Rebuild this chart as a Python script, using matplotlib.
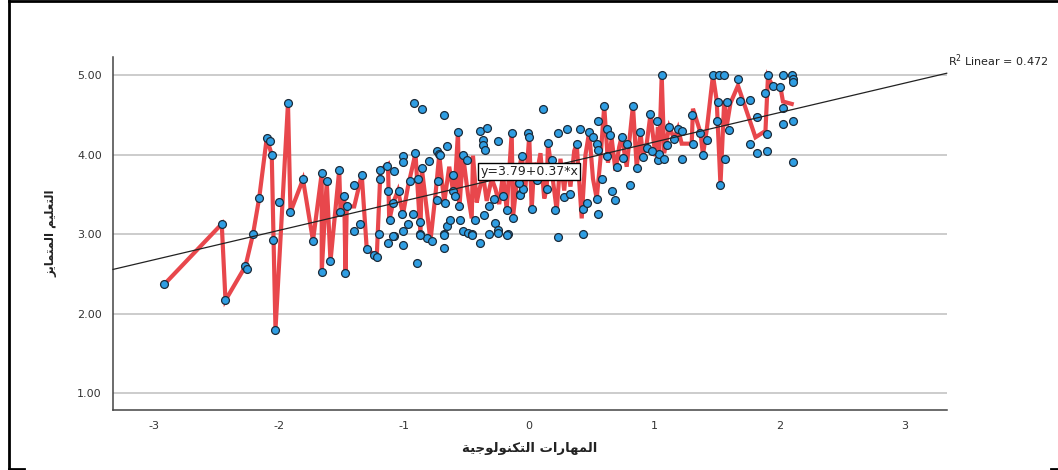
import numpy as np
import matplotlib
matplotlib.use("Agg")
import matplotlib.pyplot as plt
from matplotlib.lines import Line2D

plt.rcParams['font.family'] = ['DejaVu Sans']

# scatter points
pt_x = [-2.92, -2.46, -2.43, -2.27, -2.26, -2.21, -2.16, -2.10, -2.07, -2.06, -2.05, -2.03, -2.00, -1.93, -1.91, -1.81,
        -1.73, -1.66, -1.66, -1.62, -1.59, -1.52, -1.51, -1.48, -1.47, -1.46, -1.40, -1.40, -1.35, -1.34, -1.30, -1.24,
        -1.22, -1.20, -1.19, -1.19, -1.14, -1.13, -1.13, -1.11, -1.09, -1.08, -1.08, -1.04, -1.02, -1.01, -1.01, -1.01,
        -1.01, -0.97, -0.95, -0.93, -0.92, -0.91, -0.90, -0.89, -0.87, -0.86, -0.87, -0.86, -0.82, -0.80, -0.78, -0.74,
        -0.72, -0.71, -0.68, -0.68, -0.68, -0.66, -0.66, -0.63, -0.61, -0.57, -0.56, -0.55, -0.53, -0.53, -0.50, -0.49,
        -0.67, -0.61, -0.59, -0.74, -0.73,
        -0.46, -0.39, -0.39, -0.34, -0.37, -0.37, -0.35, -0.36, -0.43, -0.32, -0.32, -0.27, -0.28, -0.25, -0.25, -0.21,
        -0.17, -0.18, -0.14, -0.13, -0.07, -0.07, -0.06, -0.05, -0.08, -0.01, 0.00, 0.02, 0.06, 0.11, 0.14, 0.15,
        0.18, 0.21, 0.23, 0.23, 0.28, 0.30, 0.33, 0.38, 0.41, 0.43, 0.43, 0.46, 0.48, 0.51, 0.54, 0.55,
        0.55, 0.54, 0.55, 0.58, 0.60, 0.62, 0.65, 0.66, 0.69, 0.74, 0.70, 0.78, 0.81, 0.83, 0.86, 0.89,
        0.91, 0.94, 0.97, 1.02, 1.03, 1.04, 1.06, 1.08, 1.12, 1.16, 1.19, 1.22, 1.22, 1.30, 1.31, 1.37,
        1.39, 1.42, 1.47, 1.52, 1.56, 1.50, 1.53, 1.57, 1.58, 1.60, 1.51, 1.67, 1.69, 1.77, 1.77, 1.82,
        1.82, 1.90, 1.90, 1.89, 1.91, 1.95, 2.01, 2.03, 2.03, 2.03, 2.10, 2.11, 2.11, 2.11, 2.11,
        -1.09, -0.87, -0.68, -0.46, -0.25, -0.18, 0.75, 0.62, 0.98, 1.10]
pt_y = [2.37, 3.13, 2.17, 2.60, 2.56, 3.00, 3.46, 4.21, 4.17, 4.00, 2.93, 1.80, 3.40, 4.65, 3.28, 3.69,
        2.92, 3.77, 2.53, 3.67, 2.66, 3.81, 3.28, 3.48, 2.51, 3.35, 3.62, 3.04, 3.13, 3.75, 2.82, 2.74,
        2.71, 3.00, 3.70, 3.81, 3.86, 2.89, 3.55, 3.18, 3.39, 3.80, 2.98, 3.55, 3.25, 3.04, 2.86, 3.99,
        3.91, 3.13, 3.67, 3.26, 4.65, 4.02, 2.64, 3.70, 3.15, 4.57, 3.00, 3.84, 2.95, 3.92, 2.92, 4.05,
        4.01, 4.00, 3.00, 2.83, 4.50, 4.11, 3.11, 3.18, 3.74, 4.29, 3.35, 3.18, 3.04, 4.00, 3.94, 3.01,
        3.39, 3.54, 3.48, 3.43, 3.67,
        3.00, 2.89, 4.30, 4.34, 4.18, 4.12, 4.06, 3.24, 3.18, 3.00, 3.35, 3.14, 3.44, 4.17, 3.05, 3.48,
        3.00, 3.31, 4.28, 3.21, 3.51, 3.49, 3.99, 3.57, 3.65, 4.28, 4.23, 3.32, 3.68, 4.58, 3.57, 4.15,
        3.93, 3.30, 2.97, 4.28, 3.47, 4.33, 3.51, 4.13, 4.33, 3.00, 3.32, 3.39, 4.29, 4.23, 3.45, 3.25,
        4.43, 4.14, 4.06, 3.70, 4.61, 4.33, 4.25, 3.54, 3.43, 4.23, 3.85, 4.14, 3.62, 4.62, 3.84, 4.29,
        3.97, 4.08, 4.51, 4.43, 3.94, 4.01, 5.00, 3.95, 4.35, 4.20, 4.33, 4.30, 3.95, 4.50, 4.14, 4.28,
        4.00, 4.19, 5.00, 5.00, 5.00, 4.42, 3.62, 3.95, 4.66, 4.31, 4.67, 4.95, 4.68, 4.69, 4.13, 4.02,
        4.47, 4.05, 4.26, 4.78, 5.00, 4.86, 4.85, 5.00, 4.59, 4.39, 5.00, 4.95, 4.91, 4.42, 3.91,
        2.98, 2.99, 2.99, 2.99, 3.01, 2.99, 3.96, 3.98, 4.05, 4.12]

# red interpolation line (vertices in x order)
line_x = [-2.92, -2.46, -2.43, -2.27, -2.21, -2.16, -2.10, -2.06, -2.03, -1.93, -1.91, -1.81, -1.73, -1.66, -1.66,
          -1.62, -1.59, -1.52, -1.51, -1.48, -1.47, -1.46, -1.40, -1.34, -1.30, -1.24, -1.22, -1.19, -1.13, -1.12,
          -1.09, -1.05, -1.01, -0.97, -0.91, -0.87, -0.86, -0.79, -0.75, -0.72, -0.68, -0.64, -0.60, -0.57, -0.56,
          -0.53, -0.49, -0.46, -0.45, -0.42, -0.40, -0.37, -0.34, -0.30, -0.27, -0.24, -0.21, -0.18, -0.14, -0.13,
          -0.10, -0.06, -0.03, 0.00, 0.02, 0.04, 0.06, 0.09, 0.12, 0.14, 0.15, 0.18, 0.22, 0.25, 0.28,
          0.30, 0.33, 0.36, 0.38, 0.42, 0.45, 0.48, 0.51, 0.54, 0.57, 0.60, 0.63, 0.66, 0.69, 0.72,
          0.74, 0.78, 0.83, 0.86, 0.89, 0.91, 0.94, 0.97, 1.01, 1.03, 1.04, 1.06, 1.08, 1.12, 1.16,
          1.19, 1.22, 1.30, 1.31, 1.37, 1.39, 1.42, 1.47, 1.50, 1.53, 1.56, 1.58, 1.61, 1.67, 1.81,
          1.89, 1.91, 1.95, 2.01, 2.03, 2.10]
line_y = [2.37, 3.13, 2.17, 2.60, 3.00, 3.46, 4.21, 4.00, 1.80, 4.65, 3.28, 3.69, 2.92, 3.77, 2.53,
          3.67, 2.66, 3.81, 3.28, 3.48, 2.51, 3.35, 3.35, 3.75, 2.82, 2.74, 2.71, 3.81, 3.88, 3.17,
          3.39, 3.55, 3.25, 3.60, 4.02, 3.00, 3.84, 2.92, 3.50, 4.00, 3.40, 3.85, 3.45, 4.29, 3.30,
          4.00, 3.50, 3.20, 3.99, 3.40, 3.55, 3.75, 3.42, 3.70, 3.57, 3.38, 3.75, 3.31, 4.28, 3.21,
          3.65, 3.99, 3.60, 4.23, 3.32, 3.90, 3.76, 4.02, 3.45, 3.57, 4.15, 3.80, 3.30, 3.95, 3.55,
          3.90, 3.60, 4.05, 4.13, 3.20, 4.00, 4.29, 3.70, 3.45, 3.95, 4.61, 3.90, 4.20, 3.80, 4.10,
          4.23, 3.85, 4.62, 3.84, 4.29, 3.97, 4.14, 4.51, 3.98, 4.35, 4.02, 5.00, 4.02, 4.35, 4.20,
          4.33, 4.14, 4.14, 4.58, 4.28, 4.00, 4.31, 5.00, 4.68, 3.62, 4.68, 4.36, 4.65, 4.87, 4.22,
          4.30, 4.98, 4.86, 4.85, 4.67, 4.64]

intercept = 3.79
slope = 0.37
r2 = 0.472

x_ticks = [-3, -2, -1, 0, 1, 2, 3]
y_ticks = [1.00, 2.00, 3.00, 4.00, 5.00]
x_title = "المهارات التكنولوجية"
y_title = "التعليم المتمايز"

# matplotlib has no arabic shaping, so map letters to presentation forms by hand
forms = {
    'ا': ('\uFE8D', '\uFE8E', None, None),
    'ل': ('\uFEDD', '\uFEDE', '\uFEDF', '\uFEE0'),
    'ت': ('\uFE95', '\uFE96', '\uFE97', '\uFE98'),
    'ع': ('\uFEC9', '\uFECA', '\uFECB', '\uFECC'),
    'ي': ('\uFEF1', '\uFEF2', '\uFEF3', '\uFEF4'),
    'م': ('\uFEE1', '\uFEE2', '\uFEE3', '\uFEE4'),
    'ز': ('\uFEAF', '\uFEB0', None, None),
    'ه': ('\uFEE9', '\uFEEA', '\uFEEB', '\uFEEC'),
    'ر': ('\uFEAD', '\uFEAE', None, None),
    'ك': ('\uFED9', '\uFEDA', '\uFEDB', '\uFEDC'),
    'ن': ('\uFEE5', '\uFEE6', '\uFEE7', '\uFEE8'),
    'و': ('\uFEED', '\uFEEE', None, None),
    'ج': ('\uFE9D', '\uFE9E', '\uFE9F', '\uFEA0'),
    'ة': ('\uFE93', '\uFE94', None, None),
}


def shape(text):
    out = []
    for i, ch in enumerate(text):
        if ch not in forms:
            out.append(ch)
            continue
        prev = text[i - 1] if i > 0 else ' '
        nxt = text[i + 1] if i + 1 < len(text) else ' '
        join_prev = prev in forms and forms[prev][2] is not None
        join_next = forms[ch][2] is not None and nxt in forms
        iso, fin, ini, med = forms[ch]
        if join_prev and join_next:
            out.append(med)
        elif join_prev:
            out.append(fin)
        elif join_next:
            out.append(ini)
        else:
            out.append(iso)
    return ''.join(out)[::-1]


fig = plt.figure(figsize=(10.58, 4.70), dpi=100)
ax = fig.add_axes([0.1068, 0.1277, 0.788, 0.751])

xmin, xmax = -3.33, 3.34
ax.set_xlim(xmin, xmax)
ax.set_ylim(0.79, 5.23)

ax.grid(axis='y', color='#c4c4c4', linewidth=1.2)
ax.set_axisbelow(True)

ax.plot(line_x, line_y, color='#e8474c', linewidth=3, solid_joinstyle='miter', zorder=2)
ax.scatter(pt_x, pt_y, s=32, color='#2f9ee3', edgecolors='#1b2b3a', linewidths=0.9, zorder=3)

fx = np.array([xmin, xmax])
ax.plot(fx, intercept + slope * fx, color='#222222', linewidth=0.9, zorder=4, clip_on=False)

ax.text(xmax + 0.01, intercept + slope * xmax + 0.05, "R$^2$ Linear = %.3f" % r2,
        fontsize=8, color='#222222', ha='left', va='bottom')
ax.text(0.0, intercept, "y=%.2f+%.2f*x" % (intercept, slope), fontsize=9, color='#222222',
        ha='center', va='center', zorder=5,
        bbox=dict(boxstyle='square,pad=0.15', facecolor='white', edgecolor='black', linewidth=1))

ax.set_xticks(x_ticks)
ax.set_xticklabels([str(t) for t in x_ticks])
ax.set_yticks(y_ticks)
ax.set_yticklabels(["%.2f" % t for t in y_ticks])
ax.tick_params(length=0, labelsize=8, colors='#333333', pad=8)

for side in ['top', 'right']:
    ax.spines[side].set_visible(False)
for side in ['left', 'bottom']:
    ax.spines[side].set_color('#444444')
    ax.spines[side].set_linewidth(1.1)

ax.set_xlabel(shape(x_title), fontsize=9.5, fontweight='bold', color='#222222', labelpad=8)
ax.set_ylabel(shape(y_title), fontsize=8.5, fontweight='bold', color='#222222', labelpad=14)

# frame of the screenshot
W, H = 1058, 470
def fig_line(x0, y0, x1, y1, lw):
    fig.add_artist(Line2D([x0 / W, x1 / W], [1 - y0 / H, 1 - y1 / H], color='black', linewidth=lw,
                          transform=fig.transFigure))

fig_line(8.7, 1.2, 1058, 1.2, 2)
fig_line(8.7, 1.2, 8.7, 468.5, 2)
fig_line(8.7, 468.5, 24, 468.5, 2)
fig_line(1051, 468.5, 1058, 468.5, 2)

fig.savefig("out.png", dpi=100)
